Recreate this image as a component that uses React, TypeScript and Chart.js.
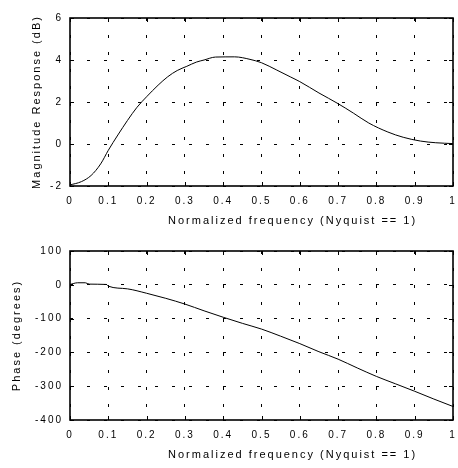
import React, { useEffect, useRef } from "react";
import { Chart, registerables } from "chart.js";

Chart.register(...registerables);

const magFreq = [0, 0.03, 0.055, 0.08, 0.1, 0.125, 0.15, 0.175, 0.2, 0.23, 0.255, 0.28, 0.305, 0.33, 0.35, 0.38, 0.43, 0.47, 0.5, 0.54, 0.575, 0.6, 0.65, 0.7, 0.74, 0.78, 0.83, 0.87, 0.915, 0.955, 1.0];
const magnitudeDb = [-1.95, -1.79, -1.5, -0.95, -0.3, 0.43, 1.12, 1.75, 2.25, 2.8, 3.2, 3.5, 3.7, 3.9, 4.0, 4.14, 4.15, 4.03, 3.87, 3.52, 3.2, 2.97, 2.43, 1.92, 1.47, 1.0, 0.57, 0.32, 0.14, 0.06, 0.02];

const phaseFreq = [0, 0.02, 0.04, 0.05, 0.095, 0.1, 0.15, 0.2, 0.25, 0.3, 0.35, 0.4, 0.45, 0.5, 0.55, 0.6, 0.65, 0.7, 0.75, 0.8, 0.85, 0.9, 0.95, 1.0];
const phaseDeg = [1, 6, 6, 2, 1, -4, -12, -25, -40, -57, -77, -96, -114, -131, -152, -174, -198, -220, -246, -271, -293, -315, -338, -360];

const xTitle = "Normalized frequency (Nyquist == 1)";
const magTitle = "Magnitude Response (dB)";
const phaseTitle = "Phase (degrees)";

const FONT = "'Liberation Sans', Arial, sans-serif";

const spacingPlugin = {
  id: "spacing",
  beforeUpdate(chart: any) {
    (chart.ctx as any).letterSpacing = "2px";
  },
  beforeLayout(chart: any) {
    (chart.ctx as any).letterSpacing = "2px";
  },
  beforeDraw(chart: any) {
    (chart.ctx as any).letterSpacing = "2px";
  },
};

const boxPlugin = {
  id: "box",
  afterDatasetsDraw(chart: any) {
    const { ctx, chartArea } = chart;
    const { left, right, top, bottom } = chartArea;
    const xs = chart.scales.x;
    const ys = chart.scales.y;
    const tl = 4;
    ctx.save();
    ctx.setLineDash([]);
    ctx.strokeStyle = "#000";
    ctx.lineWidth = 1;
    ctx.beginPath();
    xs.ticks.forEach((t: any) => {
      const px = Math.round(xs.getPixelForValue(t.value)) + 0.5;
      ctx.moveTo(px, bottom);
      ctx.lineTo(px, bottom - tl);
      ctx.moveTo(px, top);
      ctx.lineTo(px, top + tl);
    });
    ys.ticks.forEach((t: any) => {
      const py = Math.round(ys.getPixelForValue(t.value)) + 0.5;
      ctx.moveTo(left, py);
      ctx.lineTo(left + tl, py);
      ctx.moveTo(right, py);
      ctx.lineTo(right - tl, py);
    });
    ctx.stroke();
    ctx.lineWidth = 1.6;
    ctx.strokeRect(left, top, right - left, bottom - top);
    ctx.restore();
  },
};

function xTitlePlugin(titleY: number) {
  return {
    id: "xTitleAt",
    afterDraw(chart: any) {
      const { ctx } = chart;
      ctx.save();
      (ctx as any).letterSpacing = "2px";
      ctx.font = `11px ${FONT}`;
      ctx.fillStyle = "#000";
      ctx.textAlign = "left";
      ctx.textBaseline = "middle";
      ctx.fillText(xTitle, 168, titleY);
      ctx.restore();
    },
  };
}

function makeConfig(
  xs: number[],
  ys: number[],
  yMin: number,
  yMax: number,
  yStep: number,
  yTitle: string,
  padTop: number,
  xHeight: number,
  yTitlePad: number,
  titleY: number
): any {
  return {
    type: "line",
    data: {
      datasets: [
        {
          data: xs.map((x, i) => ({ x, y: ys[i] })),
          borderColor: "#000",
          borderWidth: 1,
          pointRadius: 0,
          cubicInterpolationMode: "monotone",
          fill: false,
        },
      ],
    },
    options: {
      animation: false,
      responsive: false,
      maintainAspectRatio: false,
      layout: { padding: { top: padTop, right: 5, left: 0, bottom: 0 } },
      plugins: { legend: { display: false }, tooltip: { enabled: false } },
      scales: {
        x: {
          type: "linear",
          min: 0,
          max: 1,
          afterFit(scale: any) {
            scale.height = xHeight;
            scale.paddingRight = 0;
            scale.paddingLeft = 0;
          },
          ticks: {
            stepSize: 0.1,
            padding: 9,
            color: "#000",
            font: { family: FONT, size: 10 },
            maxRotation: 0,
            callback: (v: number) => {
              const r = Math.round(v * 10) / 10;
              return r === 0 ? "0" : r === 1 ? "1" : r.toFixed(1);
            },
          },
          grid: { color: "#000", lineWidth: 1, drawTicks: false },
          border: { display: false, dash: [3, 14] },
          title: { display: false },
        },
        y: {
          type: "linear",
          min: yMin,
          max: yMax,
          afterFit(scale: any) {
            scale.width = 70;
            scale.paddingTop = 0;
            scale.paddingBottom = 0;
          },
          ticks: {
            stepSize: yStep,
            padding: 7,
            color: "#000",
            font: { family: FONT, size: 10 },
          },
          grid: { color: "#000", lineWidth: 1, drawTicks: false },
          border: { display: false, dash: [3, 14] },
          title: {
            display: true,
            text: yTitle,
            color: "#000",
            font: { family: FONT, size: 11 },
            padding: { top: yTitlePad, bottom: 0 },
          },
        },
      },
    },
    plugins: [spacingPlugin, boxPlugin, xTitlePlugin(titleY)],
  };
}

function Plot(props: { top: number; height: number; cfg: () => any }) {
  const ref = useRef<HTMLCanvasElement | null>(null);
  useEffect(() => {
    if (!ref.current) return;
    const chart = new Chart(ref.current, props.cfg());
    return () => chart.destroy();
  }, []);
  return (
    <div style={{ position: "absolute", left: 0, top: props.top, width: 458, height: props.height }}>
      <canvas ref={ref} width={458} height={props.height} style={{ width: 458, height: props.height }} />
    </div>
  );
}

export default function App() {
  return (
    <div style={{ position: "absolute", left: 0, top: 0, width: 458, height: 468, background: "#fff" }}>
      <Plot top={0} height={230} cfg={() => makeConfig(magFreq, magnitudeDb, -2, 6, 2, magTitle, 18, 44, 30, 221)} />
      <Plot top={230} height={238} cfg={() => makeConfig(phaseFreq, phaseDeg, -400, 100, 100, phaseTitle, 21, 48, 10, 225)} />
    </div>
  );
}
